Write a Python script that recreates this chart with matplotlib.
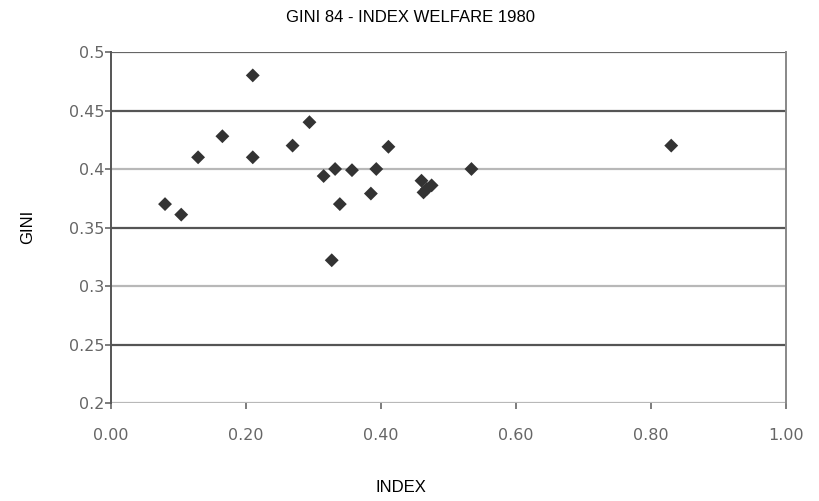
import matplotlib
matplotlib.use("Agg")
from matplotlib import pyplot as plt

# ================================================================
# DATA
# ================================================================
index_welfare = [
    0.080, 0.104, 0.129, 0.165, 0.210, 0.210, 0.269, 0.294,
    0.315, 0.332, 0.339, 0.327, 0.357, 0.393, 0.385, 0.411,
    0.460, 0.475, 0.463, 0.468, 0.534, 0.830,
]
gini_84 = [
    0.370, 0.361, 0.410, 0.428, 0.480, 0.410, 0.420, 0.440,
    0.394, 0.400, 0.370, 0.322, 0.399, 0.400, 0.379, 0.419,
    0.390, 0.386, 0.380, 0.383, 0.400, 0.420,
]

x_ticks = [0.0, 0.2, 0.4, 0.6, 0.8, 1.0]
x_tick_labels = ["0.00", "0.20", "0.40", "0.60", "0.80", "1.00"]
y_ticks = [0.2, 0.25, 0.3, 0.35, 0.4, 0.45, 0.5]
y_tick_labels = ["0.2", "0.25", "0.3", "0.35", "0.4", "0.45", "0.5"]

TITLE = "GINI 84 - INDEX WELFARE 1980"

# ================================================================
# PLOT
# ================================================================
fig = plt.figure(figsize=(8.2, 5.01), dpi=100)
ax = fig.add_axes([0.1354, 0.1956, 0.8231, 0.7006])

# gridlines: the scan shows darker and lighter lines alternating
grid_colors = {0.2: "#b8b8b8", 0.25: "#555555", 0.3: "#b8b8b8", 0.35: "#555555",
               0.4: "#b8b8b8", 0.45: "#555555", 0.5: "#666666"}
for yv in y_ticks:
    ax.axhline(yv, color=grid_colors[yv], linewidth=1.6, zorder=1)

ax.scatter(index_welfare, gini_84, marker="D", s=50, color="#333333",
           edgecolors="none", zorder=3)

ax.set_xlim(0, 1.0)
ax.set_ylim(0.2, 0.5)
ax.set_xticks(x_ticks)
ax.set_xticklabels(x_tick_labels)
ax.set_yticks(y_ticks)
ax.set_yticklabels(y_tick_labels)

for side in ["top", "bottom"]:
    ax.spines[side].set_visible(False)
ax.spines["left"].set_color("#555555")
ax.spines["left"].set_linewidth(1.4)
ax.spines["right"].set_color("#888888")
ax.spines["right"].set_linewidth(1.4)

ax.tick_params(axis="both", colors="#666666", labelsize=11.5, length=4, width=1.2)
ax.tick_params(axis="x", pad=14)
ax.tick_params(axis="y", pad=1)

fig.text(0.501, 0.966, TITLE, ha="center", va="center",
         family="Liberation Sans", fontsize=12)
fig.text(0.489, 0.027, "INDEX", ha="center", va="center",
         family="Liberation Sans", fontsize=12)
fig.text(0.034, 0.547, "GINI", ha="center", va="center", rotation=90,
         family="Liberation Sans", fontsize=12)

fig.savefig("out.png", dpi=100)
